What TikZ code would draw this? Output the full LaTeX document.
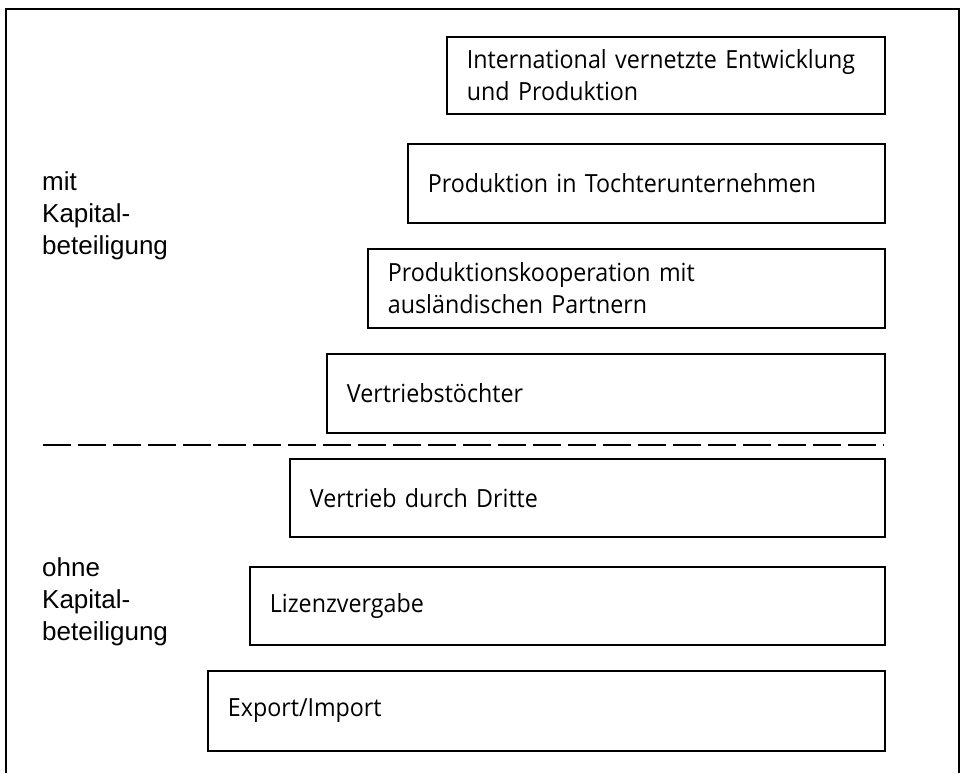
\documentclass[tikz,border=0pt]{standalone}
\usepackage{fontspec}
\setmainfont{Open Sans}[WordSpace=0.7, FakeStretch=0.93]
\newfontfamily\labelfont{Liberation Sans}
\begin{document}
\begin{tikzpicture}[x=1pt,y=-1pt,
  stage/.style={draw, line width=1.8pt, rectangle, inner xsep=20pt, inner ysep=0pt,
    align=left, anchor=north west,
    font=\fontsize{25}{32}\selectfont},
  side/.style={align=left, anchor=west, inner sep=0pt,
    font=\labelfont\fontsize{26}{32}\selectfont},
  frameline/.style={line width=1.2pt},
  divider/.style={line width=2pt, dash pattern=on 28pt off 7pt},
]
\useasboundingbox (0,0) rectangle (965,773);

% outer frame (open at the bottom)
\coordinate (fbl) at (6,773);
\coordinate (ftl) at (6,9);
\coordinate (ftr) at (959,9);
\coordinate (fbr) at (959,773);
\draw[frameline] (fbl) -- (ftl) -- (ftr) -- (fbr);

% stages
\node[stage, minimum width=438pt, minimum height=77pt, text width=398pt] (b1) at (446,36)
  {International vernetzte Entwicklung\\und Produktion};
\node[stage, minimum width=477pt, minimum height=79pt, text width=437pt] (b2) at (407,143)
  {Produktion in Tochterunternehmen};
\node[stage, minimum width=517pt, minimum height=79pt, text width=477pt] (b3) at (367,248)
  {Produktionskooperation mit\\ausländischen Partnern};
\node[stage, minimum width=558pt, minimum height=79pt, text width=518pt] (b4) at (326,353)
  {Vertriebstöchter};
\node[stage, minimum width=595pt, minimum height=78pt, text width=555pt] (b5) at (289,458)
  {Vertrieb durch Dritte};
\node[stage, minimum width=635pt, minimum height=78pt, text width=595pt] (b6) at (249,566)
  {Lizenzvergabe};
\node[stage, minimum width=677pt, minimum height=80pt, text width=637pt] (b7) at (207,670)
  {Export/Import};

% dashed divider
\coordinate (dl) at (43,445);
\coordinate (dr) at (884,445);
\draw[divider] (dl) -- (dr);

% side labels
\node[side] (mit) at (42,216) {mit\\Kapital-\\beteiligung};
\node[side] (ohne) at (42,602) {ohne\\Kapital-\\beteiligung};
\end{tikzpicture}
\end{document}
